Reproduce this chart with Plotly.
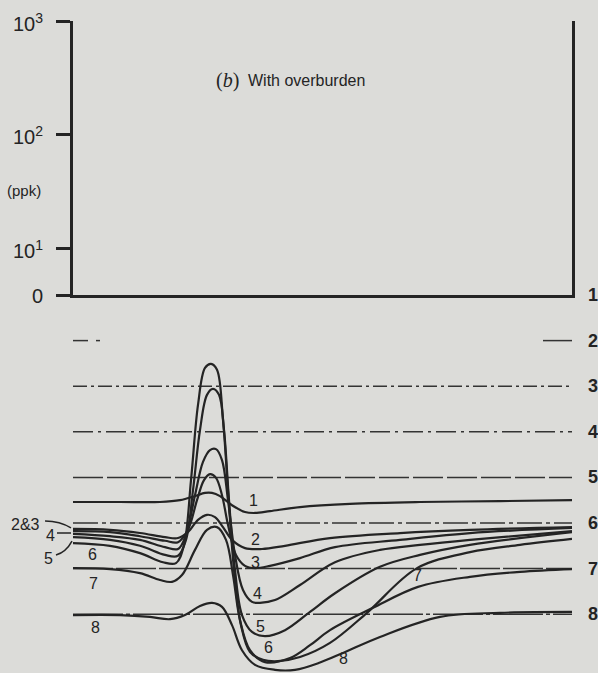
import plotly.graph_objects as go

# ---------------- data ----------------
# station (0..99.8 across the profile) and response (10 units between profile zero lines, downward)
C1_X = [0, 9.4, 17.4, 21.4, 24.4, 26.4, 27.8, 29.4, 31.8, 34.4, 36.4, 39.4, 45.4, 55.4, 69.4, 85.4, 99.8]
C1_Y = [45.4, 45.4, 45.4, 45.0, 44.1, 43.4, 43.4, 44.1, 46.1, 47.6, 47.8, 47.4, 46.5, 45.8, 45.4, 45.2, 45.0]

C2_X = [0, 7.4, 13.4, 18.4, 21, 23, 25, 26.8, 28.4, 30, 31.8, 34.4, 37.8, 42.4, 51.4, 65.4, 79.4, 99.8]
C2_Y = [51.3, 51.5, 52.2, 53.1, 53.3, 52.0, 49.3, 48.2, 48.7, 50.9, 53.7, 55.5, 55.7, 55.0, 53.3, 52.2, 51.5, 50.9]

C3_X = [0, 7.4, 13.4, 18.4, 21, 23, 24.8, 26.2, 27.4, 28.6, 29.8, 31, 32.6, 34.4, 36.4, 39.4, 45.4, 52.4, 65.4, 79.4, 99.8]
C3_Y = [51.8, 52.0, 52.9, 53.9, 54.2, 51.5, 45.0, 40.6, 39.3, 40.1, 43.9, 50.4, 57.0, 59.4, 59.9, 59.4, 57.7, 55.3, 53.7, 52.2, 51.1]

C4_X = [0, 7.4, 13.4, 18.4, 21, 22.6, 24.4, 26, 27.4, 28.6, 29.8, 31, 32.4, 34, 35.8, 37.4, 40.4, 45.4, 52.4, 61.4, 69.4, 79.4, 99.8]
C4_Y = [52.4, 52.9, 53.7, 55.3, 55.7, 52.6, 43.9, 36.6, 34.0, 33.8, 36.2, 45.0, 57.0, 64.7, 67.3, 67.5, 66.9, 63.6, 58.6, 55.9, 54.8, 53.7, 51.8]

C5_X = [0, 7.4, 13.4, 18.4, 21, 22.6, 24, 25.4, 26.8, 28, 29.2, 30.2, 31.2, 32.4, 33.8, 35.8, 38.4, 42.4, 47.4, 52.4, 61.4, 69.4, 79.4, 99.8]
C5_Y = [53.1, 53.7, 55.0, 57.0, 57.2, 53.7, 42.8, 29.6, 21.9, 20.6, 21.9, 29.6, 45.0, 60.3, 70.2, 73.9, 74.8, 73.5, 69.5, 65.4, 59.6, 57.0, 54.8, 52.0]

C6_X = [0, 7.4, 13.4, 18, 20.6, 22.2, 23.6, 25, 26.4, 27.6, 28.8, 30, 31, 32.2, 33.6, 35.4, 38, 41, 45.4, 51.4, 58.8, 68.8, 79.4, 89.4, 99.8]
C6_Y = [54.4, 55.0, 56.6, 58.6, 58.8, 54.8, 40.6, 24.1, 16.0, 15.1, 16.4, 27.4, 42.8, 60.3, 72.4, 78.3, 80.0, 80.3, 79.4, 76.3, 69.7, 59.9, 56.4, 54.8, 53.5]

C7_X = [0, 7.4, 13.4, 17.4, 19.8, 21.8, 24.4, 26.8, 28.8, 30.6, 32, 33.4, 35.4, 38.4, 43.4, 47.4, 51.4, 60, 69, 79.4, 89.4, 99.8]
C7_Y = [59.9, 60.1, 61.0, 62.5, 62.9, 61.4, 55.9, 51.5, 50.9, 53.7, 61.4, 71.3, 77.9, 80.5, 79.6, 76.8, 73.5, 68.6, 64.0, 61.8, 60.7, 60.1]

C8_X = [0, 9.4, 15.4, 19.4, 22.4, 25.4, 27.8, 29.8, 31.8, 33.8, 36.4, 40.4, 44.4, 49.4, 54, 61.4, 73.4, 85.4, 99.8]
C8_Y = [70.2, 70.2, 70.6, 71.1, 70.2, 68.2, 67.5, 68.4, 72.4, 77.9, 81.1, 82.2, 82.2, 80.6, 78.5, 75.0, 70.6, 69.7, 69.5]

CURVES = [(C1_X, C1_Y), (C2_X, C2_Y), (C3_X, C3_Y), (C4_X, C4_Y),
          (C5_X, C5_Y), (C6_X, C6_Y), (C7_X, C7_Y), (C8_X, C8_Y)]

PROFILE_NAMES = ["1", "2", "3", "4", "5", "6", "7", "8"]
BASELINE_LEVELS = [0, 10, 20, 30, 40, 50, 60, 70]
BASELINE2_X = [0, 3, None, 4.6, 5.4, None, 94, 99.8]

# curve labels inside the profile area (station, response)
CURVE_LABELS = ["1", "2", "3", "4", "5", "6", "8", "7", "6", "7", "8"]
CURVE_LABEL_X = [36.0, 36.4, 36.4, 36.8, 37.4, 39.0, 54.0, 68.8, 3.8, 4.0, 4.4]
CURVE_LABEL_Y = [45.0, 53.7, 58.6, 65.4, 72.8, 77.4, 79.8, 61.6, 57.0, 63.2, 73.0]

# upper (empty) log panel
LOG_TICKS = [0.586, 1, 2, 3]
LOG_TICK_TEXT = ["0", "10<sup>1</sup>", "10<sup>2</sup>", "10<sup>3</sup>"]

# ---------------- figure ----------------
W, H = 598, 673
BG = "#dcdcd9"
INK = "#242424"

X0, X1 = 73 / W, 572 / W
Y_SPLIT = 1 - 295 / H
Y_TOP = 1 - 21 / H

fig = go.Figure()

dashes = ["solid", "solid", "14px,4px,3px,4px", "20px,5px,3px,5px", "30px,4px",
          "25px,4px,4px,4px", "40px,3px", "50px,3px,4px,3px"]
for i, lev in enumerate(BASELINE_LEVELS):
    if i == 0:
        continue
    xs = BASELINE2_X if i == 1 else [0, 99.8]
    fig.add_trace(go.Scatter(x=xs, y=[lev if v is not None else None for v in xs],
                             mode="lines", line=dict(color="#333", width=1.5, dash=dashes[i]),
                             xaxis="x2", yaxis="y2", showlegend=False, hoverinfo="skip",
                             connectgaps=False))

for name, (xs, ys) in zip(PROFILE_NAMES, CURVES):
    fig.add_trace(go.Scatter(x=xs, y=ys, mode="lines", name=name,
                             line=dict(color=INK, width=2.2, shape="spline", smoothing=1.0),
                             xaxis="x2", yaxis="y2", showlegend=False))

fig.add_trace(go.Scatter(x=[0, 99.8], y=[1, 1], mode="lines", line=dict(width=0),
                         xaxis="x", yaxis="y", showlegend=False, hoverinfo="skip"))

annotations = []
for v, t in zip(LOG_TICKS, LOG_TICK_TEXT):
    annotations.append(dict(x=45 / W, xref="paper", y=v, yref="y", text=t,
                            xanchor="right", yanchor="middle", showarrow=False,
                            yshift=-1,
                            font=dict(family="Liberation Sans, Arial", size=20, color=INK)))
annotations.append(dict(x=24 / W, xref="paper", y=1 - 190 / H, yref="paper", text="(ppk)",
                        xanchor="center", yanchor="middle", showarrow=False,
                        font=dict(family="Liberation Sans, Arial", size=15, color=INK)))
annotations.append(dict(x=241 / W, xref="paper", y=1 - 80 / H, yref="paper",
                        text="(<i>b</i>)", xanchor="right", yanchor="middle", showarrow=False,
                        font=dict(family="Liberation Serif, Times New Roman", size=20, color=INK)))
annotations.append(dict(x=246 / W, xref="paper", y=1 - 80 / H, yref="paper",
                        text="With overburden", xanchor="left", yanchor="middle", showarrow=False,
                        font=dict(family="Liberation Sans, Arial", size=16, color=INK)))
for name, lev in zip(PROFILE_NAMES, BASELINE_LEVELS):
    annotations.append(dict(x=586 / W, xref="paper", y=lev, yref="y2", text="<b>%s</b>" % name,
                            xanchor="left", yanchor="middle", showarrow=False,
                            font=dict(family="Liberation Sans, Arial", size=18, color=INK)))
for t, cx, cy in zip(CURVE_LABELS, CURVE_LABEL_X, CURVE_LABEL_Y):
    annotations.append(dict(x=cx, xref="x2", y=cy, yref="y2", text=t,
                            xanchor="center", yanchor="middle", showarrow=False,
                            font=dict(family="Liberation Sans Narrow, Liberation Sans, Arial",
                                      size=16, color=INK)))
for t, px, py in [("2&3", 25, 524), ("4", 50, 535), ("5", 48, 558)]:
    annotations.append(dict(x=px / W, xref="paper", y=1 - py / H, yref="paper", text=t,
                            xanchor="center", yanchor="middle", showarrow=False,
                            font=dict(family="Liberation Sans Narrow, Liberation Sans, Arial",
                                      size=16, color=INK)))


def P(px, py):
    return f"{px / W:.4f},{1 - py / H:.4f}"


shapes = [
    dict(type="path", xref="paper", yref="paper",
         path=f"M{P(45, 521)} Q{P(60, 521)} {P(71, 528)}",
         line=dict(color=INK, width=1.5)),
    dict(type="line", xref="paper", yref="paper", x0=57 / W, x1=71 / W,
         y0=1 - 533 / H, y1=1 - 533 / H, line=dict(color=INK, width=1.5)),
    dict(type="path", xref="paper", yref="paper",
         path=f"M{P(56, 555)} Q{P(66, 552)} {P(72, 541)}",
         line=dict(color=INK, width=1.5)),
]

fig.update_layout(
    width=W, height=H, autosize=False,
    margin=dict(l=0, r=0, t=0, b=0),
    paper_bgcolor=BG, plot_bgcolor=BG,
    showlegend=False,
    xaxis=dict(domain=[X0, X1], range=[0, 99.8], anchor="y", showline=True,
               linewidth=2.5, linecolor=INK, ticks="", showticklabels=False,
               showgrid=False, zeroline=False, fixedrange=True),
    yaxis=dict(domain=[Y_SPLIT, Y_TOP], range=[LOG_TICKS[0], LOG_TICKS[-1]], anchor="x",
               tickvals=LOG_TICKS, ticks="outside", ticklen=14, tickwidth=2.5,
               tickcolor=INK, showticklabels=False, showline=True, linewidth=2.5,
               linecolor=INK, mirror=True, showgrid=False, zeroline=False, fixedrange=True),
    xaxis2=dict(domain=[X0, X1], range=[0, 99.8], anchor="y2", visible=False),
    yaxis2=dict(domain=[0, Y_SPLIT], range=[(673 - 295) / 4.56, 0], anchor="x2",
                visible=False),
    annotations=annotations,
    shapes=shapes,
)

fig.write_html("out.html", config={"displayModeBar": False},
               post_script="document.body.style.margin='0';document.body.style.background='%s';" % BG)
